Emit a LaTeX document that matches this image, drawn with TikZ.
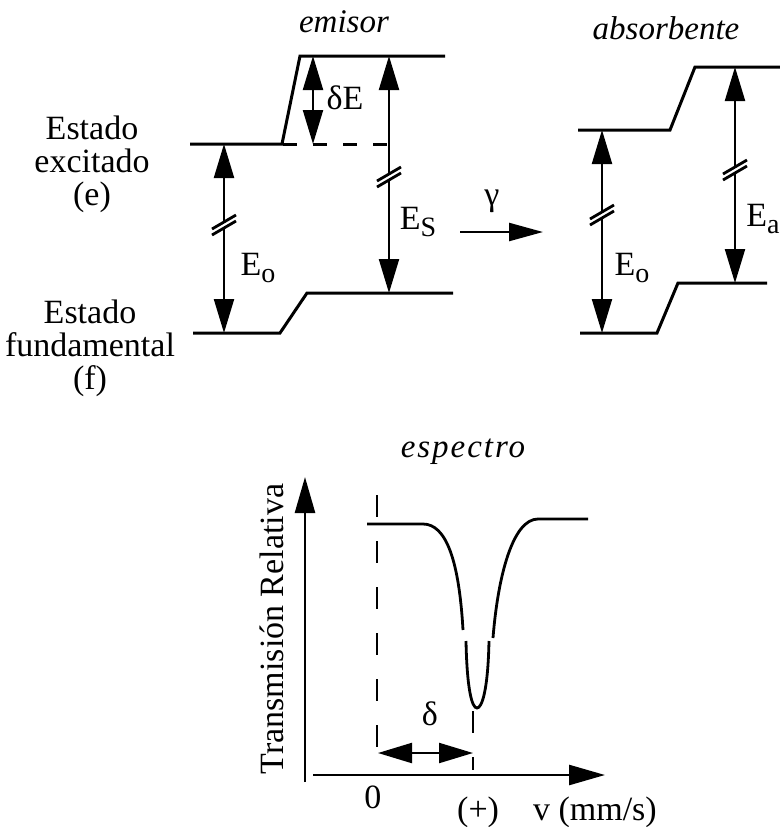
\documentclass[tikz,border=0pt]{standalone}
\usepackage{fontspec}
\setmainfont{Liberation Serif}
\usetikzlibrary{arrows.meta, positioning}
\newcommand{\lowsub}[1]{\raisebox{-0.45ex}{\fontsize{14}{14}\selectfont #1}}
\tikzset{
  level/.style={line width=1.5pt, line join=miter},
  trans/.style={{Triangle[length=17pt,width=10pt]}-{Triangle[length=17pt,width=10pt]}, line width=1.1pt},
  beam/.style={-{Triangle[length=17pt,width=9pt]}, line width=1.2pt},
  axis/.style={-{Triangle[length=18pt,width=10pt]}, line width=1.3pt},
  guide/.style={line width=1.3pt, dash pattern=on 11pt off 12pt},
  curve/.style={line width=1.4pt},
  note/.style={align=center},
  title/.style={font=\fontsize{16.5}{18}\selectfont\itshape},
  brk/.pic={
    \fill[white] (-12,6) -- (12,-8) -- (12,-2) -- (-12,12) -- cycle;
    \draw[line width=1.4pt] (-12,6) -- (12,-8);
    \draw[line width=1.4pt] (-12,12) -- (12,-2);
  },
  every node/.style={font=\fontsize{17}{16.5}\selectfont, inner sep=0pt}
}
\begin{document}
\begin{tikzpicture}[x=0.5pt, y=-0.5pt]
    \useasboundingbox (0,0) rectangle (780,827);

    % emisor
    \node[title] (emisor) at (344,22) {emisor};
    \draw[level] (190,144) -- (282,144) -- (300,56) -- (445,56);
    \draw[level] (193,333) -- (280,333) -- (307,293) -- (453,293);
    \draw[level, dash pattern=on 7pt off 8pt] (283,144) -- (395,144);
    \coordinate (eE) at (224,144);
    \coordinate (eF) at (224,333);
    \coordinate (dTop) at (313,56);
    \coordinate (dBot) at (313,144);
    \coordinate (sTop) at (389,56);
    \coordinate (sBot) at (389,293);
    \draw[trans] (eE) -- (eF);
    \draw[trans] (dTop) -- (dBot);
    \draw[trans] (sTop) -- (sBot);
    \pic at (224,223) {brk};
    \pic at (389,175) {brk};
    \node (dE) at (345,98) {δE};
    \node (Eo1) at (258,268) {E\lowsub{o}};
    \node (Es) at (418,222) {E\lowsub{S}};

    \node[note] (exc) at (92,164) {Estado\\excitado\\(e)};
    \node[note] (fund) at (90,348) {Estado\\fundamental\\(f)};

    % foton
    \coordinate (gA) at (460,232);
    \coordinate (gB) at (543,232);
    \draw[beam] (gA) -- (gB);
    \node (gamma) at (492,201) {γ};

    % absorbente
    \node[title] (absorb) at (666,28) {absorbente};
    \draw[level] (578,130) -- (670,130) -- (695,67) -- (782,67);
    \draw[level] (580,333) -- (657,333) -- (678,283) -- (767,283);
    \coordinate (aE) at (602,130);
    \coordinate (aF) at (602,333);
    \coordinate (aTop) at (735,67);
    \coordinate (aBot) at (735,283);
    \draw[trans] (aE) -- (aF);
    \draw[trans] (aTop) -- (aBot);
    \pic at (602,213) {brk};
    \pic at (735,168) {brk};
    \node (Eo2) at (632,268) {E\lowsub{o}};
    \node (Ea) at (763,219) {E\lowsub{a}};

    % espectro
    \node[title] (espectro) at (463,452) {\addfontfeature{LetterSpace=6}espectro};
    \coordinate (yO) at (305,782);
    \coordinate (yT) at (305,477);
    \coordinate (xO) at (313,775);
    \coordinate (xT) at (605,775);
    \draw[axis] (yO) -- (yT);
    \draw[axis] (xO) -- (xT);
    \node[rotate=90] (ylab) at (272,629) {Transmisión Relativa};
    \node (zero) at (373,797) {0};
    \node (xlab) at (557,812) {(+)\quad v (mm/s)};

    \draw[guide] (377,495) -- (377,753);
    \draw[guide, dash pattern=on 11pt off 12pt] (473,711) -- (473,770);
    \draw[curve] (367,524) -- (423,524) .. controls (446,524) and (459,560) .. (463,630);
    \draw[curve] (466,641) .. controls (467,690) and (472,708) .. (477,708)
                           .. controls (482,708) and (488,690) .. (489,641);
    \draw[curve] (493,638) .. controls (498,575) and (513,519) .. (538,519) -- (588,519);

    \coordinate (dL) at (378,753);
    \coordinate (dR) at (473,753);
    \draw[trans] (dL) -- (dR);
    \node (delta) at (430,714) {δ};
\end{tikzpicture}
\end{document}
